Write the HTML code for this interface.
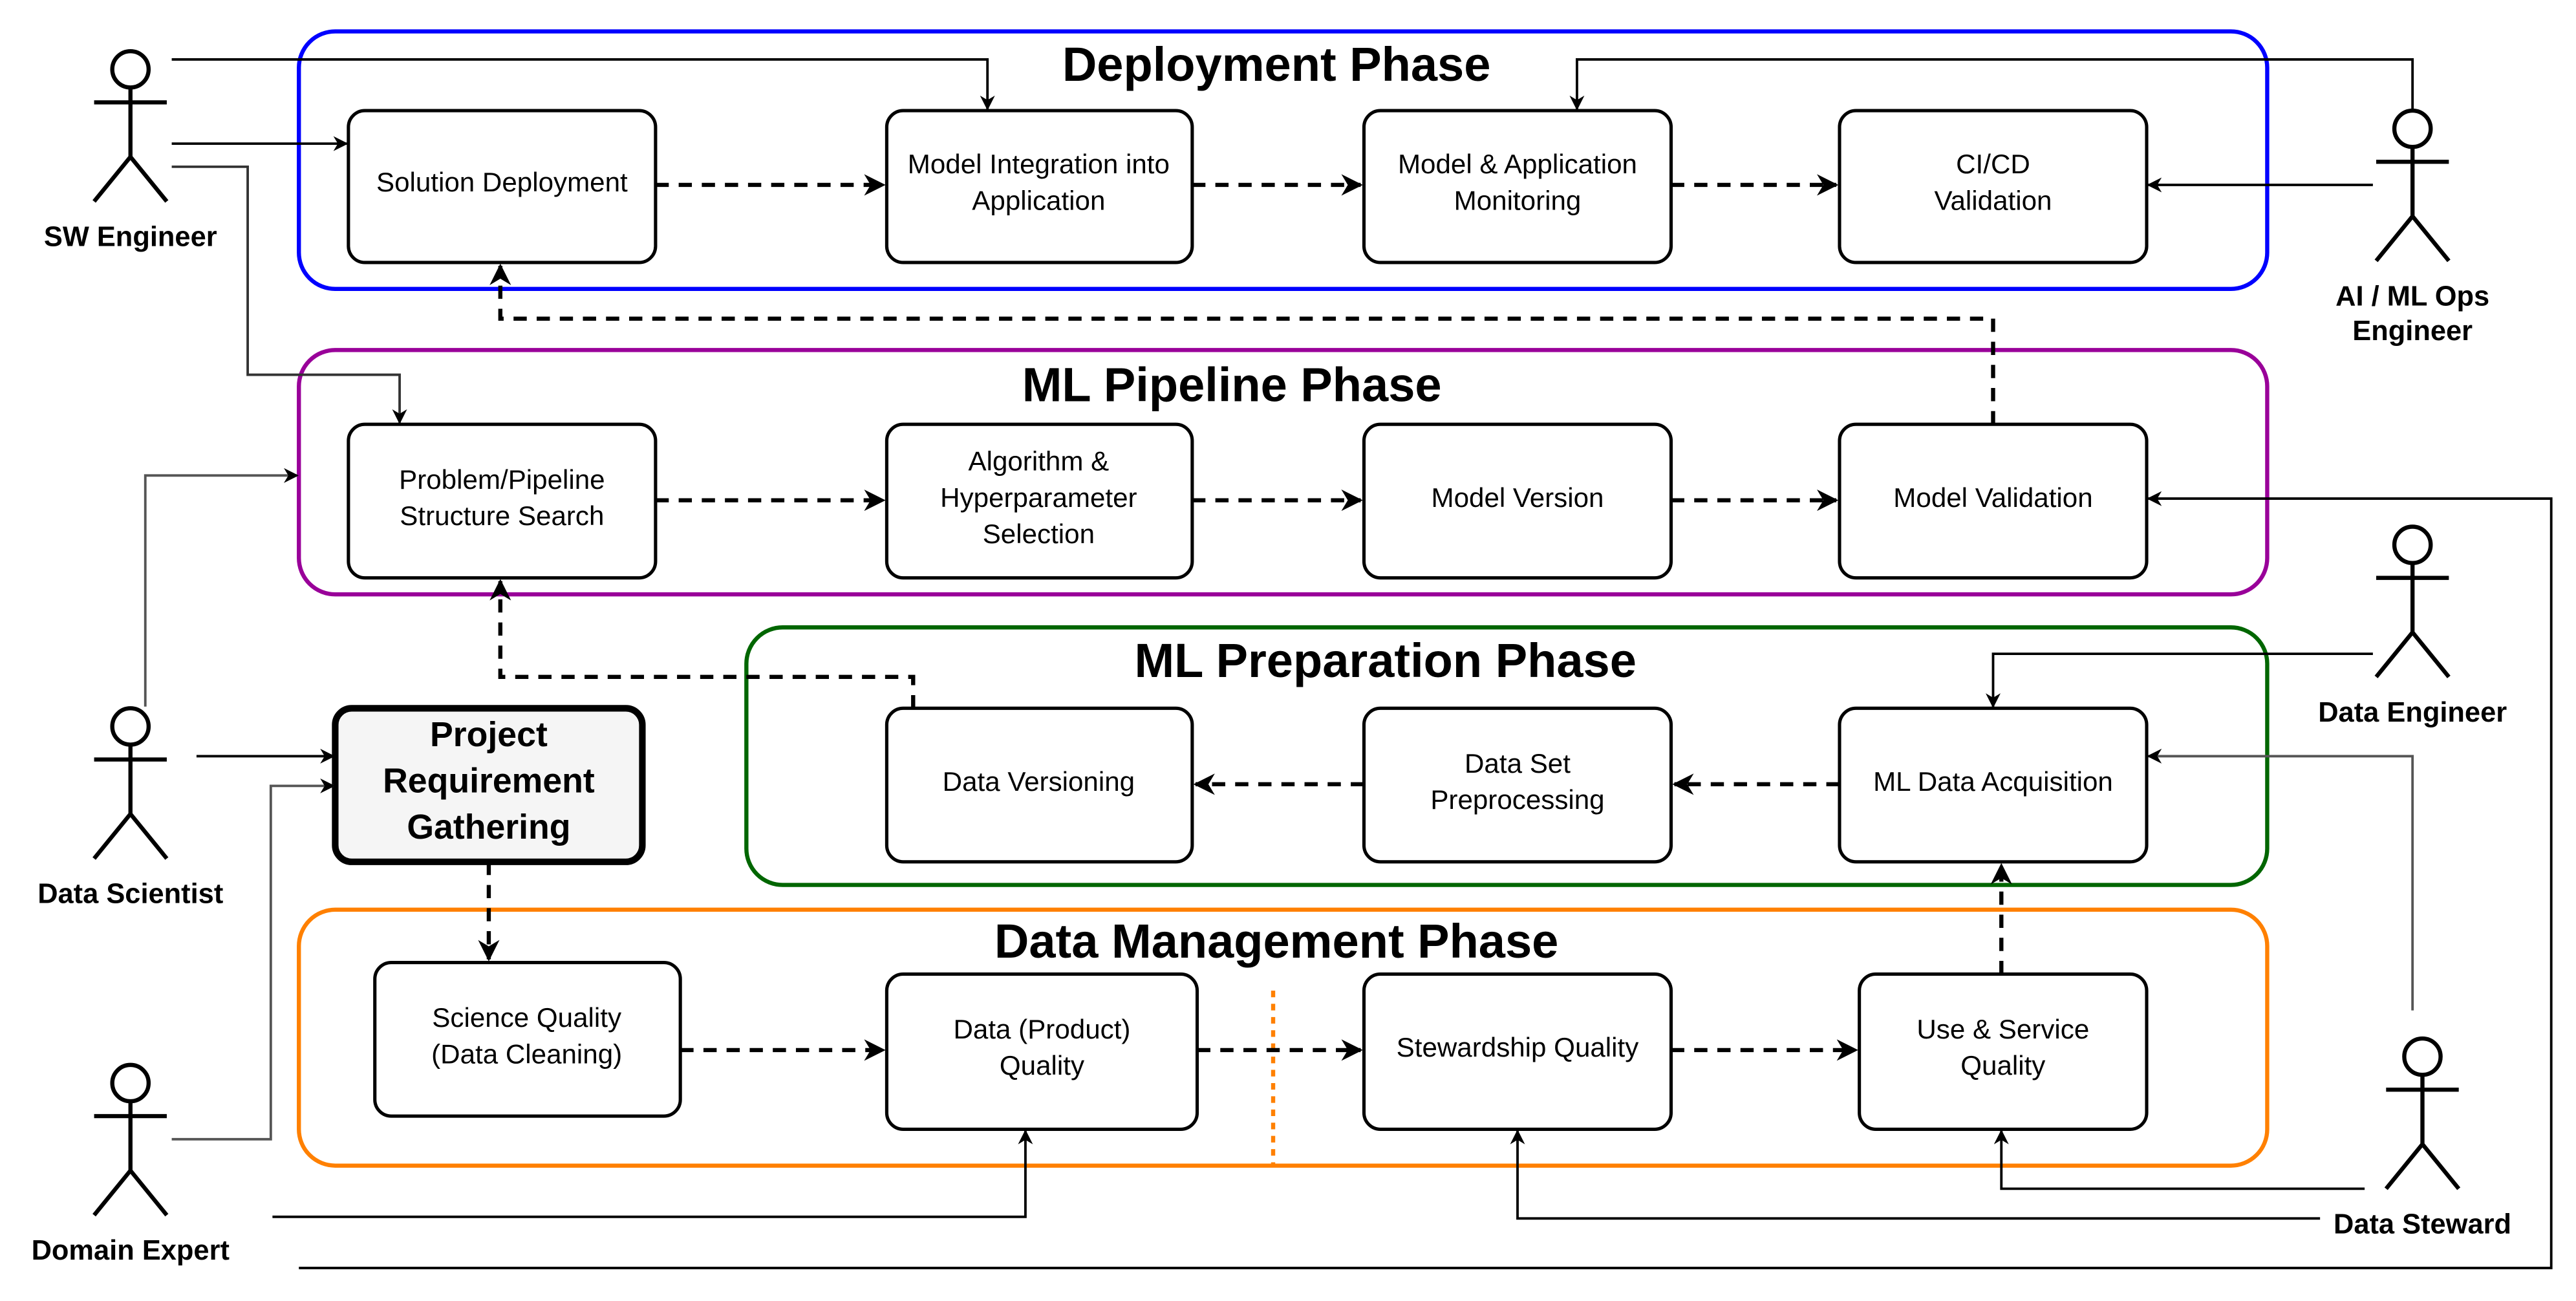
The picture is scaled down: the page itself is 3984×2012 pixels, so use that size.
<!DOCTYPE html>
<html><head><meta charset="utf-8"><style>html,body{margin:0;padding:0;background:#fff}svg{display:block}</style></head>
<body>
<svg width="3984" height="2012" viewBox="0 0 1560 788" preserveAspectRatio="none" xmlns="http://www.w3.org/2000/svg" font-family="Liberation Sans, Arial, sans-serif">
<defs>
<marker id="a" viewBox="0 0 10 10" refX="9" refY="5" markerWidth="9" markerHeight="9" orient="auto" markerUnits="userSpaceOnUse"><path d="M0,0 L10,5 L0,10 L3,5 Z" fill="#000"/></marker>
<marker id="b" viewBox="0 0 10 10" refX="9" refY="5" markerWidth="13" markerHeight="13" orient="auto" markerUnits="userSpaceOnUse"><path d="M0,0 L10,5 L0,10 L3,5 Z" fill="#000"/></marker>
</defs>
<g fill="none" stroke-width="2.5">
<rect x="181" y="19" width="1192" height="156" rx="22" stroke="#0000ff"/>
<rect x="181" y="212" width="1192" height="148" rx="22" stroke="#990099"/>
<rect x="452" y="380" width="921" height="156" rx="22" stroke="#006600"/>
<rect x="181" y="551" width="1192" height="155" rx="22" stroke="#ff8000"/>
</g>
<g font-weight="bold" font-size="29" text-anchor="middle" fill="#000">
<text x="773" y="49">Deployment Phase</text>
<text x="746" y="243">ML Pipeline Phase</text>
<text x="839" y="410">ML Preparation Phase</text>
<text x="773" y="580">Data Management Phase</text>
</g>
<line x1="771" y1="600" x2="771" y2="706" stroke="#ff8000" stroke-width="2.5" stroke-dasharray="4,4"/>
<g fill="#fff" stroke="#000" stroke-width="2">
<rect x="211" y="67" width="186" height="92" rx="10"/>
<rect x="537" y="67" width="185" height="92" rx="10"/>
<rect x="826" y="67" width="186" height="92" rx="10"/>
<rect x="1114" y="67" width="186" height="92" rx="10"/>
<rect x="211" y="257" width="186" height="93" rx="10"/>
<rect x="537" y="257" width="185" height="93" rx="10"/>
<rect x="826" y="257" width="186" height="93" rx="10"/>
<rect x="1114" y="257" width="186" height="93" rx="10"/>
<rect x="537" y="429" width="185" height="93" rx="10"/>
<rect x="826" y="429" width="186" height="93" rx="10"/>
<rect x="1114" y="429" width="186" height="93" rx="10"/>
<rect x="227" y="583" width="185" height="93" rx="10"/>
<rect x="537" y="590" width="188" height="94" rx="10"/>
<rect x="826" y="590" width="186" height="94" rx="10"/>
<rect x="1126" y="590" width="174" height="94" rx="10"/>
<rect x="203" y="429" width="186" height="93" rx="10" fill="#f5f5f5" stroke-width="4"/>
</g>
<g font-size="16.5" text-anchor="middle" fill="#000">
<text x="304" y="116">Solution Deployment</text>
<text x="629" y="105">Model Integration into</text><text x="629" y="127">Application</text>
<text x="919" y="105">Model &amp; Application</text><text x="919" y="127">Monitoring</text>
<text x="1207" y="105">CI/CD</text><text x="1207" y="127">Validation</text>
<text x="304" y="296">Problem/Pipeline</text><text x="304" y="318">Structure Search</text>
<text x="629" y="285">Algorithm &amp;</text><text x="629" y="307">Hyperparameter</text><text x="629" y="329">Selection</text>
<text x="919" y="307">Model Version</text>
<text x="1207" y="307">Model Validation</text>
<text x="629" y="479">Data Versioning</text>
<text x="919" y="468">Data Set</text><text x="919" y="490">Preprocessing</text>
<text x="1207" y="479">ML Data Acquisition</text>
<text x="319" y="622">Science Quality</text><text x="319" y="644">(Data Cleaning)</text>
<text x="631" y="629">Data (Product)</text><text x="631" y="651">Quality</text>
<text x="919" y="640">Stewardship Quality</text>
<text x="1213" y="629">Use &amp; Service</text><text x="1213" y="651">Quality</text>
</g>
<g font-size="21" font-weight="bold" text-anchor="middle" fill="#000">
<text x="296" y="452">Project</text><text x="296" y="480">Requirement</text><text x="296" y="508">Gathering</text>
</g>
<g fill="none" stroke="#000" stroke-width="2.5" stroke-dasharray="8,6" marker-end="url(#b)">
<path d="M397,112 H535"/><path d="M722,112 H824"/><path d="M1012,112 H1112"/>
<path d="M397,303 H535"/><path d="M722,303 H824"/><path d="M1012,303 H1112"/>
<path d="M1114,475 H1014"/><path d="M826,475 H724"/>
<path d="M412,636 H535"/><path d="M725,636 H824"/><path d="M1012,636 H1124"/>
<path d="M1207,257 V193 H303 V161"/>
<path d="M553,429 V410 H303 V352"/>
<path d="M1212,590 V524"/>
<path d="M296,522 V581"/>
</g>
<g fill="none" stroke="#000" stroke-width="1.5" marker-end="url(#a)">
<path d="M104,36 H598 V66"/>
<path d="M104,87 H210"/>
<path d="M104,101 H150 V227 H242 V256" stroke="#333"/>
<path d="M1461,66 V36 H955 V66"/>
<path d="M1437,112 H1301"/>
<path d="M88,428 V288 H180" stroke="#555"/>
<path d="M119,458 H202"/>
<path d="M104,690 H164 V476 H202" stroke="#555"/>
<path d="M165,737 H621 V685"/>
<path d="M181,768 H1545 V302 H1301"/>
<path d="M1437,396 H1207 V428"/>
<path d="M1461,612 V458 H1301" stroke="#555"/>
<path d="M1432,720 H1212 V685"/>
<path d="M1405,738 H919 V685"/>
</g>
<g fill="none" stroke="#000" stroke-width="2.5">
<g transform="translate(79,42)"><circle cx="0" cy="0" r="11"/><path d="M0,11 V53 M-22,20 H22 M-22,80 L0,53 L22,80"/></g>
<g transform="translate(1461,78)"><circle cx="0" cy="0" r="11"/><path d="M0,11 V53 M-22,20 H22 M-22,80 L0,53 L22,80"/></g>
<g transform="translate(1461,330)"><circle cx="0" cy="0" r="11"/><path d="M0,11 V53 M-22,20 H22 M-22,80 L0,53 L22,80"/></g>
<g transform="translate(79,440)"><circle cx="0" cy="0" r="11"/><path d="M0,11 V53 M-22,20 H22 M-22,80 L0,53 L22,80"/></g>
<g transform="translate(79,656)"><circle cx="0" cy="0" r="11"/><path d="M0,11 V53 M-22,20 H22 M-22,80 L0,53 L22,80"/></g>
<g transform="translate(1467,640)"><circle cx="0" cy="0" r="11"/><path d="M0,11 V53 M-22,20 H22 M-22,80 L0,53 L22,80"/></g>
</g>
<g font-size="17" font-weight="bold" text-anchor="middle" fill="#000">
<text x="79" y="149">SW Engineer</text>
<text x="1461" y="185">AI / ML Ops</text><text x="1461" y="206">Engineer</text>
<text x="1461" y="437">Data Engineer</text>
<text x="79" y="547">Data Scientist</text>
<text x="79" y="763">Domain Expert</text>
<text x="1467" y="747">Data Steward</text>
</g>
</svg>
</body></html>
